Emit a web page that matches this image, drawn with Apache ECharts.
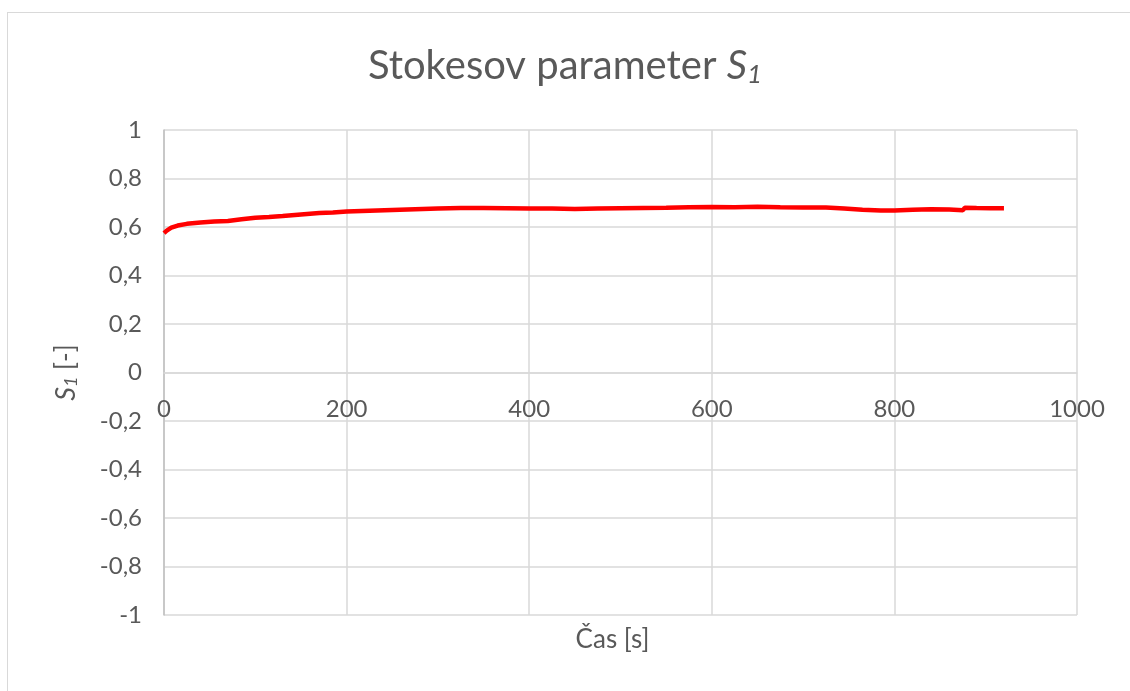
<!DOCTYPE html>
<html>
<head>
<meta charset="utf-8">
<script src="https://cdn.jsdelivr.net/npm/echarts@6/dist/echarts.min.js"></script>
<style>
  html, body { margin: 0; padding: 0; background: #fff; }
  #frame { position: absolute; left: 7px; top: 12px; width: 1140px; height: 700px; border: 1px solid #d9d9d9; box-sizing: border-box; }
  #chart { position: absolute; left: 0; top: 0; width: 1130px; height: 691px; }
</style>
</head>
<body>
<div id="frame"></div>
<div id="chart"></div>
<script>
// Measured Stokes parameter S1 over time
const timeSec = [0, 3, 8, 15, 25, 40, 55, 70, 85, 100, 115, 130, 150, 170, 185, 200, 225, 250, 275, 300,
  325, 350, 375, 400, 425, 450, 475, 500, 525, 550, 575, 600, 625, 650, 675, 700, 725, 745, 765, 785,
  800, 820, 840, 860, 875, 877, 890, 905, 920];
const s1Values = [0.575, 0.585, 0.597, 0.606, 0.613, 0.619, 0.623, 0.625, 0.632, 0.638, 0.641, 0.645, 0.652, 0.658, 0.660, 0.664, 0.667, 0.670, 0.673, 0.676,
  0.678, 0.678, 0.677, 0.676, 0.676, 0.674, 0.676, 0.677, 0.678, 0.679, 0.681, 0.682, 0.681, 0.683, 0.681, 0.680, 0.680, 0.676, 0.671, 0.668,
  0.668, 0.671, 0.673, 0.672, 0.669, 0.679, 0.678, 0.677, 0.677];
const xTicks = { min: 0, max: 1000, step: 200 };
const yTicks = { min: -1, max: 1, step: 0.2 };

const FONT = 'Lato, "Open Sans", sans-serif';
const TXT = '#595959';
const points = timeSec.map((t, i) => [t, s1Values[i]]);

// plot area box; the time axis is drawn across the S1 = 0 line
const GRID = { left: 164, right: 53, top: 130, bottom: 76 };
const plotH = 691 - GRID.top - GRID.bottom;
const zeroShift = -plotH * (0 - yTicks.min) / (yTicks.max - yTicks.min);

const chart = echarts.init(document.getElementById('chart'), null, { renderer: 'canvas' });
chart.setOption({
  animation: false,
  backgroundColor: 'transparent',
  title: {
    text: '{n|Stokesov parameter }{s|S}{sub|1}',
    left: 'center',
    top: 40,
    textStyle: {
      rich: {
        n: { fontFamily: FONT, fontSize: 40, fontWeight: 'normal', color: TXT },
        s: { fontFamily: FONT, fontSize: 40, fontWeight: 'normal', color: TXT, fontStyle: 'italic' },
        sub: { fontFamily: FONT, fontSize: 26, fontWeight: 'normal', color: TXT, fontStyle: 'italic', padding: [17, 0, 0, 0] }
      }
    }
  },
  grid: Object.assign({ containLabel: false, outerBoundsMode: 'none' }, GRID),
  xAxis: {
    type: 'value',
    min: xTicks.min, max: xTicks.max, interval: xTicks.step,
    offset: zeroShift,
    name: 'Čas [s]',
    nameLocation: 'middle',
    nameGap: 254,
    nameTextStyle: { fontFamily: FONT, fontSize: 26, color: TXT, padding: [0, 16, 0, 0] },
    axisLine: { show: true, onZero: false, lineStyle: { color: '#d9d9d9', width: 1.5 } },
    axisTick: { show: false },
    axisLabel: { fontFamily: FONT, fontSize: 24, color: TXT, margin: 25, formatter: v => String(v) },
    splitLine: { show: true, lineStyle: { color: '#d9d9d9', width: 1.5 } }
  },
  yAxis: {
    type: 'value',
    min: yTicks.min, max: yTicks.max, interval: yTicks.step,
    name: '{s|S}{sub|1}{n| [-]}',
    nameLocation: 'middle',
    nameGap: 84,
    nameRotate: 90,
    nameTextStyle: {
      rich: {
        n: { fontFamily: FONT, fontSize: 26, color: TXT },
        s: { fontFamily: FONT, fontSize: 27, color: TXT, fontStyle: 'italic' },
        sub: { fontFamily: FONT, fontSize: 18, color: TXT, fontStyle: 'italic', padding: [10, 0, 0, 0] }
      }
    },
    axisLine: { show: true, onZero: false, lineStyle: { color: '#bfbfbf', width: 1.5 } },
    axisTick: { show: false },
    axisLabel: {
      fontFamily: FONT, fontSize: 24, color: TXT, margin: 22,
      formatter: v => {
        const r = Math.round(v * 10) / 10;
        return r === 0 ? '0' : String(r).replace('.', ',');
      }
    },
    splitLine: { show: true, lineStyle: { color: '#d9d9d9', width: 1.5 } }
  },
  series: [{
    type: 'line',
    data: points,
    showSymbol: false,
    smooth: false,
    lineStyle: { color: '#ff0000', width: 4.5 },
    itemStyle: { color: '#ff0000' }
  }]
});
</script>
</body>
</html>
